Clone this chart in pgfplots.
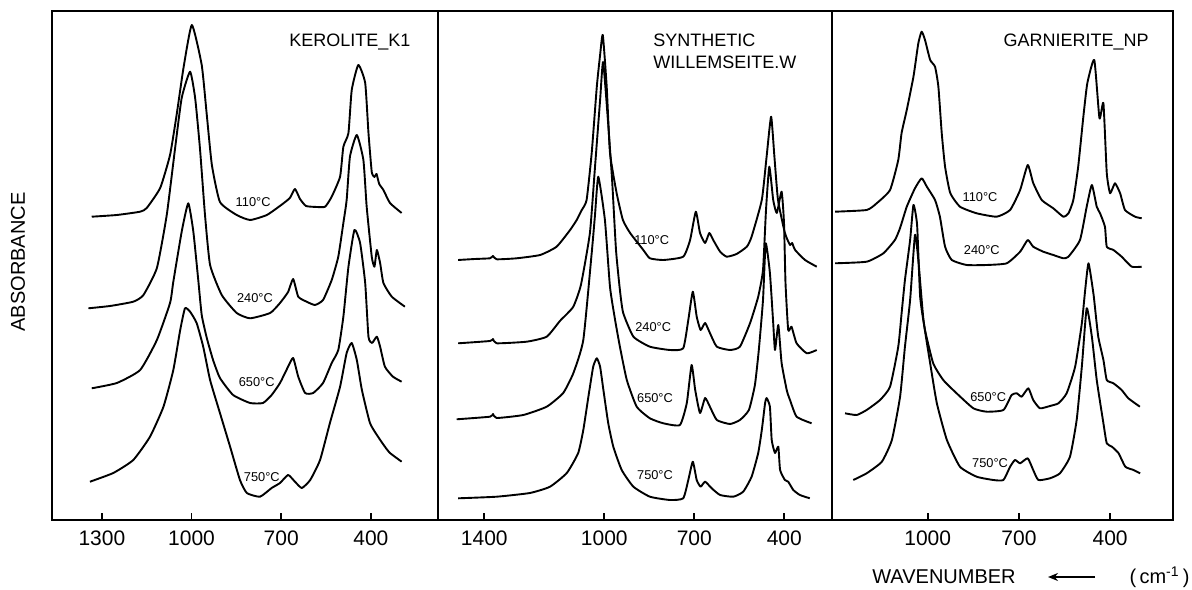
\documentclass[border=0pt]{standalone}
\usepackage{fontspec}
\setmainfont{Liberation Sans}
\usepackage{pgfplots}
\pgfplotsset{compat=1.18}
\usetikzlibrary{arrows.meta}

\pgfplotsset{
  irpanel/.style={
    scale only axis, anchor=south west, height=254.65pt,
    ymin=-520, ymax=-10.7, ytick=\empty,
    x dir=reverse, xtick pos=left,
    tick align=inside, major tick length=3.5pt,
    tick style={line width=0.9pt, black},
    axis line style={line width=1pt},
    xticklabel style={font=\fontsize{10.5}{12}\selectfont, yshift=-2pt},
    every axis plot post/.append style={black, line width=0.95pt, line join=round, smooth, tension=0.3, mark=none},
  },
}
\tikzset{
  temp/.style={font=\fontsize{6.4}{7}\selectfont, inner sep=0pt},
  ttl/.style={font=\fontsize{9}{11}\selectfont, inner sep=0pt},
}

\begin{document}
\begin{tikzpicture}[x=0.5pt, y=0.5pt]
\useasboundingbox (0,0) rectangle (1192,589);

% KEROLITE
\begin{axis}[irpanel, at={(26pt,34.5pt)}, width=192.75pt,
  xmin=177, xmax=1467, xtick={1300,1000,700,400}, xticklabels={1300,1000,700,400}]
\addplot coordinates {(1334,-216.7)(1250,-215)(1172,-211.7)(1150,-208)(1105,-188)(1072,-155)(1050,-115)(1027,-68)(999,-25)(966,-65)(949,-115)(932,-165)(905,-202)(849,-215)(804,-220)(748,-215)(700,-205)(671,-198)(654,-189)(637,-199)(617,-206)(581,-207)(553,-206.7)(531,-196.7)(503,-176.7)(492,-146.7)(475,-133)(464,-90)(442,-65)(419,-83)(408,-133)(397,-172)(388,-177)(381,-174)(372,-184)(358,-190)(336,-203)(297,-213)};
\addplot coordinates {(1345,-308.3)(1273,-306)(1195,-301.7)(1161,-295)(1116,-268)(1083,-215)(1055,-148)(1033,-98)(1005,-71.7)(988,-98)(972,-148)(955,-215)(938,-265)(899,-295)(849,-313)(804,-318.3)(737,-313)(704,-303)(677,-292)(660,-279)(643,-296.7)(615,-301.7)(587,-305)(560,-300)(531,-280)(509,-256.7)(492,-223)(481,-200)(470,-156.7)(447,-135)(425,-160)(414,-206.7)(397,-256.7)(388,-266.7)(380,-250)(369,-263)(358,-283)(330,-296.7)(286,-306.7)};
\addplot coordinates {(1334,-388.3)(1250,-383)(1172,-370)(1116,-340)(1072,-303)(1061,-281.7)(1033,-231.7)(1011,-203.3)(994,-231.7)(977,-281.7)(966,-315)(949,-338)(928,-360)(905,-378)(861,-395)(804,-403)(761,-403)(732,-395)(704,-383)(677,-366.7)(660,-358)(643,-376.7)(620,-393)(593,-393)(560,-383)(531,-363)(509,-350)(492,-316.7)(475,-266.7)(455,-230)(436,-243)(419,-283)(408,-336.7)(396,-343)(380,-336.7)(369,-346.7)(353,-366.7)(326,-376.7)(297,-381.7)};
\addplot coordinates {(1340,-481.7)(1262,-473)(1195,-460)(1139,-436.7)(1094,-406.7)(1061,-370)(1038,-330)(1022,-308.3)(1005,-311.7)(983,-323)(961,-346.7)(938,-380)(905,-413)(871,-446.7)(838,-480)(815,-493)(771,-496.7)(732,-488)(704,-483)(677,-475)(654,-481.7)(631,-488)(603,-480)(570,-460)(537,-423)(503,-386.7)(481,-353)(464,-343)(447,-360)(430,-390)(403,-423)(376,-436.7)(353,-446.7)(336,-453)(297,-461.7)};
\node[temp] at (794,-201.7) {110°C};
\node[temp] at (788,-298) {240°C};
\node[temp] at (782,-381.7) {650°C};
\node[temp] at (765,-476.7) {750°C};
\node[ttl] at (470,-41.7) {KEROLITE\_K1};
\end{axis}

% SYNTHETIC WILLEMSEITE
\begin{axis}[irpanel, at={(218.75pt,34.5pt)}, width=197.4pt,
  xmin=240, xmax=1556, xtick={1400,1000,700,400}, xticklabels={1400,1000,700,400}]
\addplot coordinates {(1487,-260)(1431,-259)(1381,-258.3)(1371,-256)(1359,-259.3)(1292,-258.3)(1214,-255)(1159,-246.7)(1114,-230)(1092,-220)(1075,-210)(1059,-200)(1042,-153)(1025,-86.7)(1014,-55)(1005,-35)(992,-86.7)(981,-153)(959,-193)(938,-220)(914,-233)(870,-250)(848,-258.3)(803,-260)(737,-256.7)(714,-240)(695,-211.7)(681,-233)(664,-243)(650,-233)(637,-240)(614,-251.7)(592,-256.7)(559,-254)(525,-246.7)(509,-236.7)(475,-200)(459,-156.7)(444,-116.7)(433,-156.7)(421,-200)(398,-233)(381,-245)(374,-243)(364,-250)(331,-260)(292,-266.7)};
\addplot coordinates {(1487,-343.3)(1381,-341)(1371,-339)(1359,-343.3)(1259,-341.7)(1192,-336.7)(1148,-321)(1104,-307)(1078,-285)(1048,-233)(1031,-167)(1014,-100)(1004,-62)(988,-120)(974,-180)(961,-250)(948,-290)(937,-313)(903,-336.7)(848,-346.7)(781,-350)(737,-348.3)(720,-320)(705,-291.7)(692,-316.7)(679,-330)(664,-323)(648,-333)(625,-346.7)(581,-350)(548,-346.7)(514,-323)(487,-296.7)(471,-270)(461,-210)(450,-166.7)(437,-200)(425,-213)(409,-191.7)(401,-223)(396,-283)(387,-330)(376,-326.7)(359,-343.3)(325,-353.3)(292,-350)};
\addplot coordinates {(1492,-419.3)(1381,-416.7)(1371,-414)(1359,-418)(1270,-415)(1192,-406.7)(1137,-393)(1103,-373)(1070,-340)(1042,-253)(1031,-215)(1020,-176.7)(998,-220)(981,-287)(964,-320)(948,-346.7)(925,-380)(892,-406.7)(848,-418.3)(803,-423.3)(748,-425)(725,-403)(709,-365)(697,-390)(681,-413)(664,-398)(648,-406.7)(625,-420)(581,-424)(548,-420)(518,-410)(498,-385)(485,-350)(471,-300)(462,-243.3)(448,-273)(437,-323)(431,-350)(420,-325)(409,-363)(392,-390)(386,-396)(381,-400)(359,-416.7)(309,-423.3)};
\addplot coordinates {(1487,-498.3)(1359,-496.7)(1248,-493)(1181,-486.7)(1125,-473)(1087,-453)(1070,-430)(1053,-396.7)(1037,-366.7)(1025,-358.3)(1014,-366.7)(1003,-390)(987,-423)(970,-446.7)(942,-470)(903,-486.7)(848,-496.7)(781,-500)(737,-498.3)(720,-480)(705,-461.7)(692,-480)(679,-486.7)(664,-481.7)(642,-488.3)(614,-495)(570,-496.7)(537,-491.7)(509,-476.7)(487,-453)(475,-430)(464,-403)(459,-398)(448,-406.7)(442,-440)(431,-453)(420,-446.7)(414,-470)(398,-480)(387,-481.7)(370,-490)(348,-495)(315,-498.3)};
\node[temp] at (842,-240) {110°C};
\node[temp] at (837,-326.7) {240°C};
\node[temp] at (831,-398.3) {650°C};
\node[temp] at (831,-475) {750°C};
\node[ttl, anchor=north west, align=left] at (838,-34) {SYNTHETIC\\WILLEMSEITE.W};
\end{axis}

% GARNIERITE
\begin{axis}[irpanel, at={(416.15pt,34.5pt)}, width=170.2pt,
  xmin=194, xmax=1314, xtick={1000,700,400}, xticklabels={1000,700,400}]
\addplot coordinates {(1305,-211.7)(1201,-210)(1168,-203.3)(1124,-190)(1097,-160)(1086,-133)(1069,-110)(1047,-76.7)(1031,-43.3)(1020,-31.7)(1009,-40)(992,-60)(976,-66.7)(965,-86.7)(954,-133)(943,-166.7)(926,-193)(894,-206.7)(839,-213.3)(773,-216.7)(729,-210)(696,-190)(671,-165)(653,-183)(625,-200)(587,-208.3)(554,-216.7)(537,-213.3)(521,-200)(505,-166.7)(488,-116.7)(475,-83.3)(452,-60)(435,-118.3)(422,-103.3)(411,-173)(400,-193.3)(384,-183.3)(367,-193.3)(351,-210)(318,-216.7)(296,-218.3)};
\addplot coordinates {(1305,-263.3)(1201,-261.7)(1146,-253.3)(1108,-240)(1091,-228)(1069,-206.7)(1042,-188.3)(1020,-178.3)(1003,-186.7)(976,-200)(960,-216.7)(943,-246.7)(921,-260)(872,-265)(806,-265)(740,-263.3)(696,-251.7)(671,-240)(653,-246.7)(620,-251.7)(587,-255)(554,-258.3)(537,-256.7)(499,-240)(477,-206.7)(460,-185)(444,-206.7)(433,-213.3)(417,-226.7)(411,-246.7)(389,-250)(362,-256.7)(329,-266.7)(296,-266.7)};
\addplot coordinates {(1272,-413.3)(1234,-415)(1201,-410)(1157,-400)(1124,-386.7)(1097,-346.7)(1086,-313.3)(1075,-280)(1058,-240)(1047,-205)(1035,-225)(1025,-296.7)(1009,-330)(982,-363.3)(949,-380)(905,-393.3)(850,-408.3)(806,-411.7)(751,-410)(724,-395)(707,-393.3)(691,-396.7)(669,-388.3)(653,-400)(631,-408.3)(598,-406)(570,-403.3)(543,-393.3)(515,-366.7)(493,-323.3)(482,-290)(471,-263.3)(455,-293.3)(450,-306.7)(439,-336.7)(422,-360)(411,-380)(389,-383.3)(362,-390)(340,-398.3)(302,-406.7)};
\addplot coordinates {(1245,-480)(1201,-473.3)(1151,-461.7)(1118,-440)(1091,-396.7)(1075,-346.7)(1058,-300)(1042,-235)(1031,-260)(1014,-320)(992,-363.3)(970,-403.3)(937,-440)(894,-466.7)(839,-476.7)(784,-480)(751,-480)(729,-466.7)(713,-460)(696,-463.3)(671,-458.3)(653,-470)(636,-480)(598,-478.3)(565,-473.3)(532,-456.7)(510,-420)(493,-366.7)(477,-308.3)(460,-336.7)(444,-380)(422,-423.3)(411,-443.3)(394,-446.7)(372,-453.3)(350,-466.7)(323,-470)(301,-473.3)};
\node[temp] at (828,-196.7) {110°C};
\node[temp] at (822,-250) {240°C};
\node[temp] at (801,-396.7) {650°C};
\node[temp] at (795,-463.3) {750°C};
\node[ttl] at (512,-41.7) {GARNIERITE\_NP};
\end{axis}

\node[rotate=90, font=\fontsize{10}{12}\selectfont, inner sep=0pt] at (18,327) {ABSORBANCE};
\node[font=\fontsize{10}{12}\selectfont, inner sep=0pt] at (944,12) {WAVENUMBER};
\draw[line width=0.8pt, -{Stealth[length=5pt, width=4pt]}] (1095,12) -- (1048,12);
\node[font=\fontsize{10}{12}\selectfont, inner sep=0pt, anchor=east] at (1190,12) {(\,cm\textsuperscript{-1}\,)};
\end{tikzpicture}
\end{document}
